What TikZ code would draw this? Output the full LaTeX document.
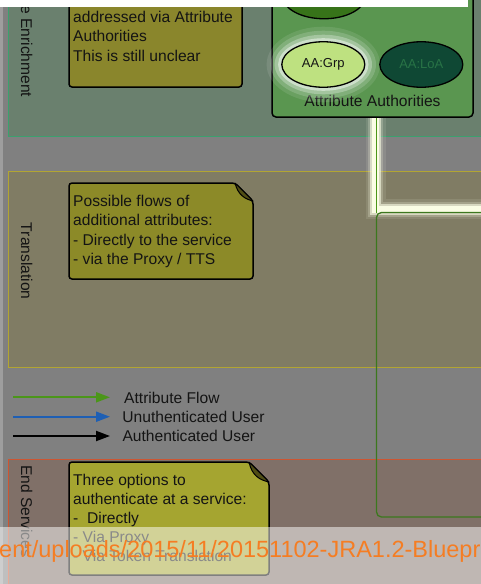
\documentclass[tikz,border=0pt]{standalone}
\usepackage{fontspec}
\setmainfont{Liberation Sans}
\usetikzlibrary{shapes.geometric,arrows.meta}
\definecolor{bggray}{RGB}{128,128,128}
\definecolor{stripgray}{RGB}{158,158,158}
\definecolor{enrfill}{RGB}{106,128,110}
\definecolor{enrline}{RGB}{60,160,110}
\definecolor{trfill}{RGB}{128,124,100}
\definecolor{trline}{RGB}{178,165,50}
\definecolor{esfill}{RGB}{128,112,104}
\definecolor{esline}{RGB}{205,85,50}
\definecolor{noteA}{RGB}{138,134,44}
\definecolor{noteB}{RGB}{140,138,40}
\definecolor{noteC}{RGB}{165,165,48}
\definecolor{folddark}{RGB}{80,78,20}
\definecolor{aaboxc}{RGB}{90,150,80}
\definecolor{aatopc}{RGB}{55,115,25}
\definecolor{grpc}{RGB}{190,225,128}
\definecolor{loac}{RGB}{15,72,52}
\definecolor{loatext}{RGB}{40,115,70}
\definecolor{flowgreen}{RGB}{75,150,25}
\definecolor{userblue}{RGB}{30,95,180}
\definecolor{boxgreen}{RGB}{60,120,30}
\definecolor{glowc}{RGB}{250,253,228}
\definecolor{urlorange}{RGB}{245,125,35}
\definecolor{inkc}{RGB}{20,20,20}
\newcommand\fnote{\fontsize{15.6}{19.2}\selectfont}
\newcommand\fsmall{\fontsize{13}{15}\selectfont}
\newcommand\furl{\fontsize{23.5}{28}\selectfont}
\tikzset{
  lane/.style={line width=1pt},
  notebox/.style={line width=1.5pt, draw=black, rounded corners=3pt},
  foldflap/.style={line width=1pt, draw=black, fill=folddark, line join=round},
  notetext/.style={anchor=north west, align=left, inner sep=0pt, font=\fnote, text=inkc},
  lanelabel/.style={rotate=-90, inner sep=0pt, font=\fnote, text=inkc},
  aaell/.style={ellipse, draw=black, line width=1.3pt, minimum width=83pt, minimum height=45.5pt, inner sep=0pt, font=\fsmall},
  legarrow/.style={line width=2pt, -{Triangle[length=14pt,width=10pt]}},
  legtext/.style={anchor=base west, inner sep=0pt, font=\fnote, text=inkc},
}
\begin{document}
\begin{tikzpicture}[x=1pt,y=-1pt]
\useasboundingbox (0,0) rectangle (481,584);
\clip (0,0) rectangle (481,584);
\fill[bggray] (0,0) rectangle (481,584);
\fill[stripgray] (0,0) rectangle (3,584);
% swimlanes
\draw[lane, draw=enrline, fill=enrfill] (8.5,-30) rectangle (530,136.5);
\draw[lane, draw=trline, fill=trfill] (8.5,171) rectangle (530,367);
\draw[lane, draw=esline, fill=esfill] (8.5,459) rectangle (530,640);
\node[lanelabel, anchor=east] (enrlabel) at (26.7,97.5) {Attribute Enrichment};
\node[lanelabel, anchor=west] (trlabel) at (26.7,222.7) {Translation};
\node[lanelabel, anchor=west] (eslabel) at (26.7,465) {End Services};
% note 1
\draw[notebox, fill=noteA] (69,-30) rectangle (242,87);
\node[notetext] (note1) at (73,11.1) {addressed via Attribute\\Authorities\\This is still unclear};
% note 2
\draw[notebox, fill=noteB] (69,183) -- (235,183) -- (253,201) -- (253,279) -- (69,279) -- cycle;
\draw[foldflap] (235,183) -- (253,201) .. controls (245,199) and (238,195) .. (235,183);
\node[notetext] (note2) at (73,195.1) {Possible flows of\\additional attributes:\\- Directly to the service\\- via the Proxy / TTS};
% note 3
\draw[notebox, fill=noteC] (69,462) -- (249,462) -- (269,482) -- (269,575) -- (69,575) -- cycle;
\draw[foldflap] (249,462) -- (269,482) .. controls (260,480) and (252,476) .. (249,462);
\node[notetext] (note3) at (73,473.6) {Three options to\\authenticate at a service:\\-\ \ Directly\\- Via Proxy\\- Via Token Translation};
% attribute authorities
\node[draw=black, line width=1.5pt, fill=aaboxc, rounded corners=4pt, minimum width=201pt, minimum height=147pt, inner sep=0pt] (aabox) at (372.5,43.5) {};
\node[anchor=base, inner sep=0pt, font=\fnote, text=inkc] (aalabel) at (372.5,106.5) {Attribute Authorities};
\node[aaell, fill=aatopc] (aatop) at (324,-4) {};
\foreach \r/\o in {15/0.10,11/0.16,7/0.28,3.5/0.45}
  \fill[white, opacity=\o] (323.3,64.5) ellipse [x radius={41.7+\r}, y radius={22.8+\r}];
\node[aaell, fill=grpc, text=inkc] (aagrp) at (323.3,64.5) {AA:Grp};
\node[aaell, fill=loac, text=loatext] (aaloa) at (421.3,64.5) {AA:LoA};
% highlighted attribute flow
\coordinate (glowend) at (500,209);
\coordinate (glowstart) at ([xshift=3pt]aabox.south);
\foreach \w/\o in {20/0.10,15/0.22,11/0.6,7/1}
  \draw[glowc, line width=\w pt, opacity=\o] (glowstart) |- (glowend);
\coordinate (gboxnw) at (376.5,212.5);
\coordinate (gboxse) at (540,517);
\draw[flowgreen, line width=1pt] ([xshift=4pt]aabox.south) -- (gboxnw);
\draw[boxgreen, line width=1.3pt, rounded corners=5pt] (gboxnw) rectangle (gboxse);
% legend
\coordinate (l1a) at (13,397.3); \coordinate (l1b) at (110,397.3);
\coordinate (l2a) at (13,416.7); \coordinate (l2b) at (110,416.7);
\coordinate (l3a) at (13,436);   \coordinate (l3b) at (110,436);
\draw[legarrow, flowgreen] (l1a) -- (l1b);
\draw[legarrow, userblue] (l2a) -- (l2b);
\draw[legarrow, black] (l3a) -- (l3b);
\node[legtext] (l1t) at (124,403.3) {Attribute Flow};
\node[legtext] (l2t) at (122.2,422.7) {Unuthenticated User};
\node[legtext] (l3t) at (122.3,441.3) {Authenticated User};
% screenshot overlays
\fill[white] (0,0) rectangle (468,7);
\fill[white, opacity=0.5] (0,527) rectangle (481,584);
\node[anchor=base west, inner sep=0pt, font=\furl, text=urlorange] (url) at (-1,557) {ent/uploads/2015/11/20151102-JRA1.2-Bluepr};
\end{tikzpicture}
\end{document}
